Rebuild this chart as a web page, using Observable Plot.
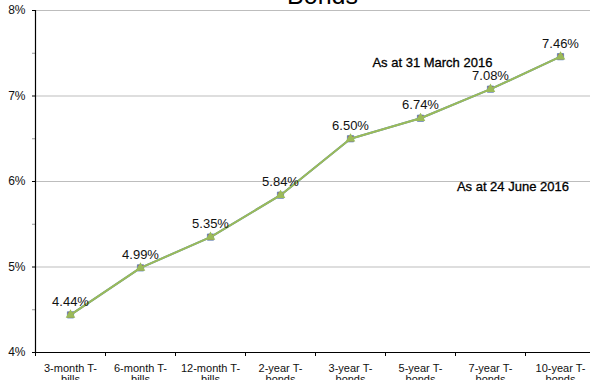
<!DOCTYPE html>
<html>
<head>
<meta charset="utf-8">
<script src="https://cdn.jsdelivr.net/npm/d3@7"></script>
<script src="https://cdn.jsdelivr.net/npm/@observablehq/plot@0.6"></script>
<style>
  html, body { margin: 0; padding: 0; background: #fff; overflow: hidden; }
  #chart svg { display: block; font-family: "Liberation Sans", Arial, sans-serif; max-width: none !important; }
</style>
</head>
<body>
<div id="chart"></div>
<script>
const categories = ["3-month T-bills", "6-month T-bills", "12-month T-bills", "2-year T-bonds",
                    "3-year T-bonds", "5-year T-bonds", "7-year T-bonds", "10-year T-bonds"];
const march2016 = [4.44, 4.99, 5.35, 5.84, 6.50, 6.74, 7.08, 7.46];
const june2016  = [4.44, 4.99, 5.35, 5.84, 6.50, 6.74, 7.08, 7.46];
const yTicks = [4, 5, 6, 7, 8];
const yMinorTicks = [4.5, 5.5, 6.5, 7.5];
const title = "Bonds";
const annotations = [
  {label: "As at 31 March 2016", x: 5.67, y: 7.39},
  {label: "As at 24 June 2016", x: 6.82, y: 5.94}
];

const idx = categories.map((c, i) => i + 0.5);
const marchData = categories.map((c, i) => ({x: i + 0.5, y: march2016[i]}));
const juneData = categories.map((c, i) => ({x: i + 0.5, y: june2016[i]}));
const boundaries = d3.range(0, categories.length + 1);

const chart = Plot.plot({
  width: 595,
  height: 380,
  marginLeft: 35,
  marginRight: 0,
  marginTop: 10,
  marginBottom: 28,
  style: {fontFamily: "Liberation Sans, Arial, sans-serif", background: "#fff", overflow: "hidden", maxWidth: "none"},
  x: {type: "linear", domain: [0, categories.length]},
  y: {domain: [4, 8]},
  marks: [
    Plot.gridY(yTicks.slice(1), {stroke: "#bdbdbd", strokeOpacity: 1, strokeWidth: 1}),
    Plot.axisY(yTicks, {tickSize: 3, tickPadding: 7, fontSize: 12, tickFormat: d => d + "%", stroke: "#000", label: null, fill: "#111"}),
    Plot.axisY(yMinorTicks, {tickSize: 3, tickFormat: () => "", stroke: "#999", label: null}),
    Plot.axisX(boundaries, {tickSize: 4, tickFormat: () => "", stroke: "#000", label: null}),
    Plot.axisX(idx, {tickSize: 0, tickPadding: 11, fontSize: 11, lineHeight: 1.05, fill: "#111",
      tickFormat: d => categories[Math.floor(d)].replace("T-", "T-\n"), label: null}),
    Plot.ruleX([0], {stroke: "#000", strokeWidth: 1.2}),
    Plot.ruleY([4], {stroke: "#000", strokeWidth: 1.2}),
    Plot.line(marchData, {x: "x", y: "y", stroke: "#4F81BD", strokeWidth: 2}),
    Plot.dot(marchData, {x: "x", y: "y", symbol: "square", r: 3.5, fill: "#C0504D", stroke: "#4F81BD", strokeWidth: 0.8}),
    Plot.line(juneData, {x: "x", y: "y", stroke: "#9BBB59", strokeWidth: 2}),
    Plot.dot(juneData, {x: "x", y: "y", symbol: "triangle", r: 2.6, fill: "#9BBB59", stroke: "#9BBB59"}),
    Plot.text(marchData, {x: "x", y: "y", text: d => d.y.toFixed(2) + "%", dy: -13, fontSize: 13, fill: "#111"}),
    Plot.text(annotations, {x: "x", y: "y", text: "label", fontSize: 13, fill: "#000", stroke: "#000", strokeWidth: 0.3}),
    Plot.text([title], {frameAnchor: "top", lineAnchor: "bottom", dx: 7, dy: -7, fontSize: 25, fill: "#000"})
  ]
});
document.getElementById("chart").appendChild(chart);
</script>
</body>
</html>
